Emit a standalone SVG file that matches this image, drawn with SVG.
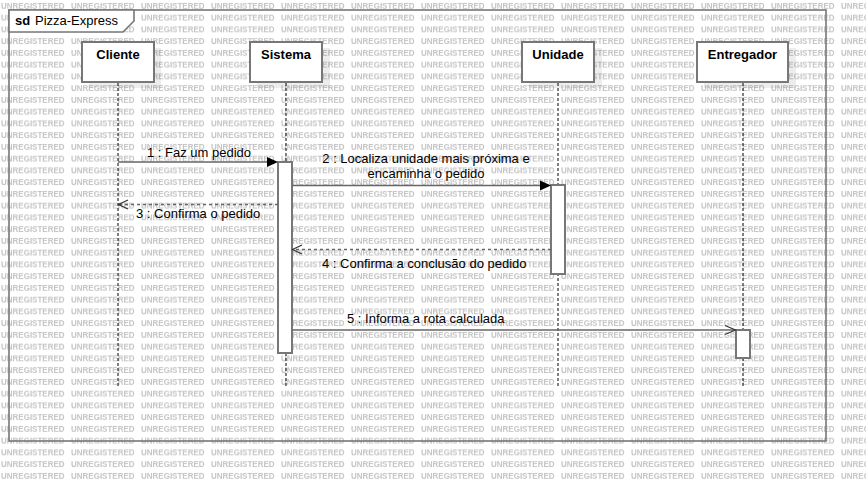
<svg xmlns="http://www.w3.org/2000/svg" width="866" height="482" viewBox="0 0 866 482">
<style>
.wm{font-family:"Liberation Sans",Arial,sans-serif;font-size:8px;fill:#c4c4c4;font-weight:bold}
.t{font-family:"Liberation Sans",Arial,sans-serif;font-size:13px;fill:#000}
.b{font-weight:bold}
.box{fill:#fff;stroke:#777;stroke-width:2}
.sh{fill:#000;fill-opacity:0.07}
.life{stroke:#000;stroke-width:1;stroke-dasharray:3,2;fill:none}
.act{fill:#fff;stroke:#777;stroke-width:2}
.msg{stroke:#666;stroke-width:1.5;fill:none}
.ret{stroke:#666;stroke-width:1.5;fill:none;stroke-dasharray:3,3}
.open{stroke:#333;stroke-width:1.2;fill:none}
</style>
<defs>
<pattern id="wmp" patternUnits="userSpaceOnUse" x="0" y="0" width="70" height="11.75">
<text class="wm" x="1" y="8.5">UNREGISTERED</text>
</pattern>
</defs>
<rect x="0" y="0" width="866" height="482" fill="#fff"/>
<rect x="0" y="0" width="866" height="482" fill="url(#wmp)"/>
<g id="frame">
<rect x="9" y="10" width="817" height="431" fill="none" stroke="#777" stroke-width="1.6"/>
<polygon points="9,10 134,10 134,21 123,32 9,32" fill="#fff" stroke="#777" stroke-width="1.6"/>
<text class="t" x="15" y="25"><tspan class="b">sd</tspan><tspan x="35">Pizza-Express</tspan></text>
</g>
<g id="lifelines">
<line class="life" x1="118" y1="83" x2="118" y2="386"/>
<line class="life" x1="286" y1="83" x2="286" y2="386"/>
<line class="life" x1="558" y1="83" x2="558" y2="386"/>
<line class="life" x1="743" y1="83" x2="743" y2="386"/>
</g>
<g id="cliente">
<rect class="sh" x="89" y="48" width="72" height="40"/>
<rect class="box" x="82" y="42" width="72" height="40"/>
<text class="t b" x="118" y="59" text-anchor="middle">Cliente</text>
</g>
<g id="sistema">
<rect class="sh" x="257" y="48" width="73" height="40"/>
<rect class="box" x="250" y="42" width="72" height="40"/>
<text class="t b" x="286" y="59" text-anchor="middle">Sistema</text>
</g>
<g id="unidade">
<rect class="sh" x="529" y="48" width="73" height="40"/>
<rect class="box" x="522" y="42" width="72" height="40"/>
<text class="t b" x="558" y="59" text-anchor="middle">Unidade</text>
</g>
<g id="entregador">
<rect class="sh" x="704" y="48" width="92" height="40"/>
<rect class="box" x="697" y="42" width="91" height="40"/>
<text class="t b" x="742.5" y="59" text-anchor="middle">Entregador</text>
</g>
<g id="activations">
<rect class="act" x="278" y="162" width="14" height="191"/>
<rect class="act" x="551" y="185" width="14" height="89"/>
<rect class="act" x="736" y="330" width="14" height="28"/>
</g>
<g id="connectors">
<line class="msg" x1="118" y1="162" x2="270" y2="162"/>
<polygon points="267,157 278,162 267,167" fill="#000"/>
<text class="t" x="147" y="157">1 : Faz um pedido</text>
<line class="msg" x1="292" y1="185.5" x2="543" y2="185.5"/>
<polygon points="540,180.5 551,185.5 540,190.5" fill="#000"/>
<text class="t" x="426" y="163" text-anchor="middle">2 : Localiza unidade mais próxima e</text>
<text class="t" x="426" y="177.5" text-anchor="middle">encaminha o pedido</text>
<line class="ret" x1="278" y1="204.5" x2="119" y2="204.5"/>
<polyline class="open" points="128,200 118.5,204.5 128,209"/>
<text class="t" x="136" y="218">3 : Confirma o pedido</text>
<line class="ret" x1="551" y1="249.5" x2="293" y2="249.5"/>
<polyline class="open" points="302,245 292.5,249.5 302,254"/>
<text class="t" x="322" y="268">4 : Confirma a conclusão do pedido</text>
<line class="msg" x1="292" y1="330" x2="735" y2="330"/>
<polyline class="open" points="725,325.5 735.5,330 725,334.5"/>
<text class="t" x="347" y="323">5 : Informa a rota calculada</text>
</g>
</svg>
